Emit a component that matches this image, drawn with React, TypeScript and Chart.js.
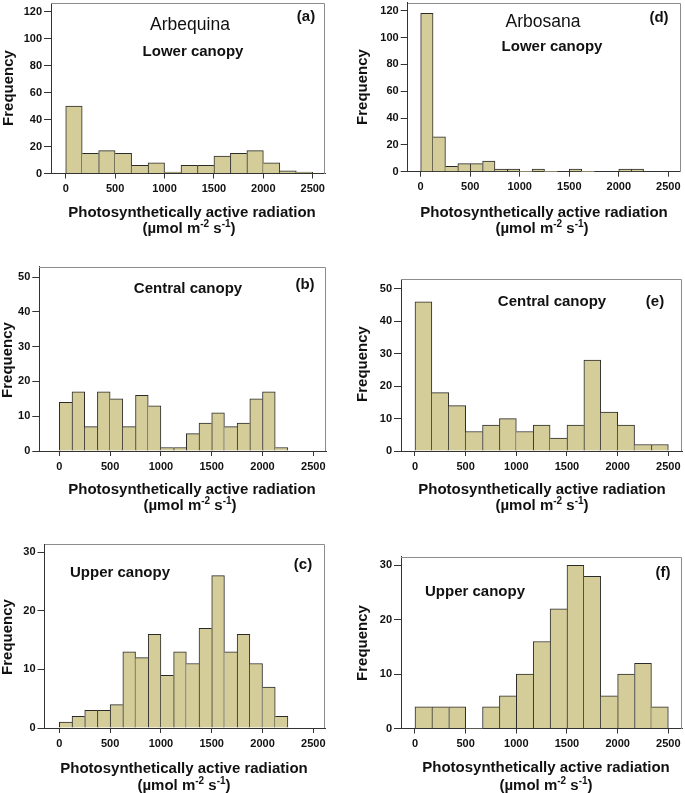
import React, { useEffect, useRef } from "react";
import { Chart, registerables } from "chart.js";

Chart.register(...registerables);

// ---------- data ----------
const xTickValues = [0, 500, 1000, 1500, 2000, 2500];
const yTicksLower = [0, 20, 40, 60, 80, 100, 120];
const yTicksCentral = [0, 10, 20, 30, 40, 50];
const yTicksUpper = [0, 10, 20, 30];

const binWide = 2500 / 15; // 15 bins over 0-2500
const binNarrow = 125; // 125-wide bins

const arbequinaLower = [50, 15, 17, 15, 6, 8, 1, 6, 6, 13, 15, 17, 8, 2, 1];
const arbequinaCentral = [14, 17, 7, 17, 15, 7, 16, 13, 1, 1, 5, 8, 11, 7, 8, 15, 17, 1];
const arbequinaUpper = [1, 2, 3, 3, 4, 13, 12, 16, 9, 13, 11, 17, 26, 13, 16, 11, 7, 2];
const arbosanaLower = [118, 26, 4, 6, 6, 8, 2, 2, 0, 2, 0, 0, 2, 0, 0, 0, 2, 2];
const arbosanaCentral = [46, 18, 14, 6, 8, 10, 6, 8, 4, 8, 28, 12, 8, 2, 2];
const arbosanaUpper = [4, 4, 4, 0, 4, 6, 10, 16, 22, 30, 28, 6, 10, 12, 4];

const xTitle = "Photosynthetically active radiation";
const yTitle = "Frequency";

// ---------- styles ----------
const FAMILY = "'Liberation Sans', Arial, Helvetica, sans-serif";
const TEXT = "#111111";
const AXIS = "#333333";
const FRAME = "#8c8c8c";
const BAR_FILL = "#d4cd99";
const BAR_BORDER = "#2a2a2a";

type Txt = { text: string; x: number; y: number };
interface PanelCfg {
  box: [number, number, number, number];
  area: [number, number, number, number];
  xMin: number;
  xMax: number;
  yMax: number;
  yTicks: number[];
  binWidth: number;
  counts: number[];
  cultivar?: Txt;
  sub: Txt;
  tag: Txt;
  freq: [number, number];
  xt1: [number, number];
  xt2: [number, number];
}

const panels: PanelCfg[] = [
  {
    box: [0, 0, 340, 245], area: [51, 3, 325, 173.5],
    xMin: -149, xMax: 2624, yMax: 126.5, yTicks: yTicksLower,
    binWidth: binWide, counts: arbequinaLower,
    cultivar: { text: "Arbequina", x: 190, y: 25 },
    sub: { text: "Lower canopy", x: 193, y: 52 },
    tag: { text: "(a)", x: 306, y: 17 },
    freq: [9, 88], xt1: [192, 213], xt2: [189, 229],
  },
  {
    box: [340, 0, 345, 245], area: [407.7, 2.7, 680.7, 171.7],
    xMin: -131, xMax: 2625, yMax: 126, yTicks: yTicksLower,
    binWidth: binNarrow, counts: arbosanaLower,
    cultivar: { text: "Arbosana", x: 543, y: 22 },
    sub: { text: "Lower canopy", x: 552, y: 47 },
    tag: { text: "(d)", x: 659, y: 18 },
    freq: [363, 87], xt1: [544, 213], xt2: [542, 229],
  },
  {
    box: [0, 245, 340, 275], area: [39.3, 266.7, 326, 451],
    xMin: -197, xMax: 2625, yMax: 53, yTicks: yTicksCentral,
    binWidth: binNarrow, counts: arbequinaCentral,
    sub: { text: "Central canopy", x: 188, y: 289 },
    tag: { text: "(b)", x: 305, y: 285 },
    freq: [8, 360], xt1: [192, 490], xt2: [190, 506],
  },
  {
    box: [340, 245, 345, 275], area: [401, 279, 682.3, 451],
    xMin: -138, xMax: 2638, yMax: 53, yTicks: yTicksCentral,
    binWidth: binWide, counts: arbosanaCentral,
    sub: { text: "Central canopy", x: 552, y: 302 },
    tag: { text: "(e)", x: 655, y: 302 },
    freq: [363, 364], xt1: [542, 490], xt2: [542, 506],
  },
  {
    box: [0, 520, 340, 273], area: [44.5, 544, 325, 728],
    xMin: -146, xMax: 2615, yMax: 31.4, yTicks: yTicksUpper,
    binWidth: binNarrow, counts: arbequinaUpper,
    sub: { text: "Upper canopy", x: 120, y: 573 },
    tag: { text: "(c)", x: 303, y: 565 },
    freq: [8, 637], xt1: [184, 769], xt2: [184, 786],
  },
  {
    box: [340, 520, 345, 273], area: [401, 556.7, 682.3, 728.5],
    xMin: -138, xMax: 2638, yMax: 31.6, yTicks: yTicksUpper,
    binWidth: binWide, counts: arbosanaUpper,
    sub: { text: "Upper canopy", x: 475, y: 592 },
    tag: { text: "(f)", x: 663, y: 573 },
    freq: [363, 643], xt1: [546, 768], xt2: [546, 786],
  },
];

function Panel({ cfg }: { cfg: PanelCfg }) {
  const ref = useRef<HTMLCanvasElement>(null);
  useEffect(() => {
    const [bl, bt, bw, bh] = cfg.box;
    const [al, at, ar, ab] = cfg.area;
    const counts = cfg.counts;

    const annot = {
      id: "annot",
      afterDraw(chart: any) {
        const ctx: CanvasRenderingContext2D = chart.ctx;
        const { left, top, right } = chart.chartArea;
        ctx.save();
        // gray frame (top + right)
        ctx.strokeStyle = FRAME;
        ctx.lineWidth = 1;
        const tY = Math.round(top) + 0.5;
        const rX = Math.round(right) - 0.5;
        ctx.beginPath();
        ctx.moveTo(Math.round(left), tY);
        ctx.lineTo(rX, tY);
        ctx.lineTo(rX, Math.round(chart.chartArea.bottom));
        ctx.stroke();

        ctx.fillStyle = TEXT;
        ctx.textBaseline = "middle";
        ctx.textAlign = "center";
        const put = (t: string, x: number, y: number, font: string) => {
          ctx.font = font;
          ctx.fillText(t, x - bl, y - bt);
        };
        if (cfg.cultivar) put(cfg.cultivar.text, cfg.cultivar.x, cfg.cultivar.y, `17.5px ${FAMILY}`);
        put(cfg.sub.text, cfg.sub.x, cfg.sub.y, `bold 15px ${FAMILY}`);
        put(cfg.tag.text, cfg.tag.x, cfg.tag.y, `bold 15px ${FAMILY}`);
        put(xTitle, cfg.xt1[0], cfg.xt1[1], `bold 15px ${FAMILY}`);

        // unit line with superscripts
        const segs: [string, boolean][] = [["(µmol m", false], ["-2", true], [" s", false], ["-1", true], [")", false]];
        const mainFont = `bold 15px ${FAMILY}`;
        const supFont = `bold 10px ${FAMILY}`;
        let total = 0;
        const widths = segs.map(([s, sup]) => {
          ctx.font = sup ? supFont : mainFont;
          const w = ctx.measureText(s).width;
          total += w;
          return w;
        });
        let cx = cfg.xt2[0] - bl - total / 2;
        ctx.textAlign = "left";
        segs.forEach(([s, sup], i) => {
          ctx.font = sup ? supFont : mainFont;
          ctx.fillText(s, cx, cfg.xt2[1] - bt - (sup ? 5 : 0));
          cx += widths[i];
        });

        // rotated y title
        ctx.translate(cfg.freq[0] - bl, cfg.freq[1] - bt);
        ctx.rotate(-Math.PI / 2);
        ctx.textAlign = "center";
        ctx.font = `bold 15px ${FAMILY}`;
        ctx.fillText(yTitle, 0, 0);
        ctx.restore();
      },
    };

    const chart = new Chart(ref.current as HTMLCanvasElement, {
      type: "bar",
      data: {
        datasets: [
          {
            data: counts.map((c, i) => ({ x: (i + 0.5) * cfg.binWidth, y: c })),
            backgroundColor: BAR_FILL,
            borderColor: BAR_BORDER,
            borderSkipped: false,
            borderWidth: (c: any) => {
              const i = c.dataIndex;
              const v = counts[i] ?? 0;
              const prev = i > 0 ? counts[i - 1] : 0;
              const next = i < counts.length - 1 ? counts[i + 1] : 0;
              return { top: 1, bottom: 0, left: prev <= v ? 1 : 0, right: next < v ? 1 : 0 };
            },
            barPercentage: 1,
            categoryPercentage: 1,
          } as any,
        ],
      },
      options: {
        responsive: false,
        maintainAspectRatio: false,
        animation: false,
        events: [],
        layout: { padding: { left: 0, top: at - bt, right: bl + bw - ar, bottom: 0 } },
        plugins: { legend: { display: false }, tooltip: { enabled: false }, title: { display: false } },
        scales: {
          x: {
            type: "linear",
            min: cfg.xMin,
            max: cfg.xMax,
            offset: false,
            z: 1,
            afterBuildTicks: (s: any) => {
              s.ticks = xTickValues.map((v) => ({ value: v }));
            },
            afterFit: (s: any) => {
              s.height = bt + bh - ab;
              s.paddingLeft = 0;
              s.paddingRight = 0;
            },
            grid: { offset: false, drawOnChartArea: false, drawTicks: true, tickLength: 5, color: AXIS, lineWidth: 1 },
            border: { display: true, color: AXIS, width: 1 },
            ticks: {
              autoSkip: false,
              maxRotation: 0,
              padding: 4,
              color: TEXT,
              font: { family: FAMILY, size: 11, weight: "bold" },
              callback: (v: any) => String(v),
            },
          },
          y: {
            type: "linear",
            min: 0,
            max: cfg.yMax,
            z: 1,
            afterBuildTicks: (s: any) => {
              s.ticks = cfg.yTicks.map((v) => ({ value: v }));
            },
            afterFit: (s: any) => {
              s.width = al - bl;
              s.paddingTop = 0;
              s.paddingBottom = 0;
            },
            grid: { drawOnChartArea: false, drawTicks: true, tickLength: 7, color: AXIS, lineWidth: 1 },
            border: { display: true, color: AXIS, width: 1 },
            ticks: {
              autoSkip: false,
              padding: 2,
              color: TEXT,
              font: { family: FAMILY, size: 11, weight: "bold" },
              callback: (v: any) => String(v),
            },
          },
        },
      } as any,
      plugins: [annot],
    });
    return () => chart.destroy();
  }, [cfg]);

  const [l, t, w, h] = cfg.box;
  return (
    <canvas
      ref={ref}
      width={w}
      height={h}
      style={{ position: "absolute", left: l, top: t, width: w, height: h, display: "block" }}
    />
  );
}

export default function App() {
  return (
    <div
      style={{
        position: "fixed",
        left: 0,
        top: 0,
        width: 685,
        height: 793,
        background: "#ffffff",
        overflow: "hidden",
      }}
    >
      {panels.map((p, i) => (
        <Panel key={i} cfg={p} />
      ))}
    </div>
  );
}
